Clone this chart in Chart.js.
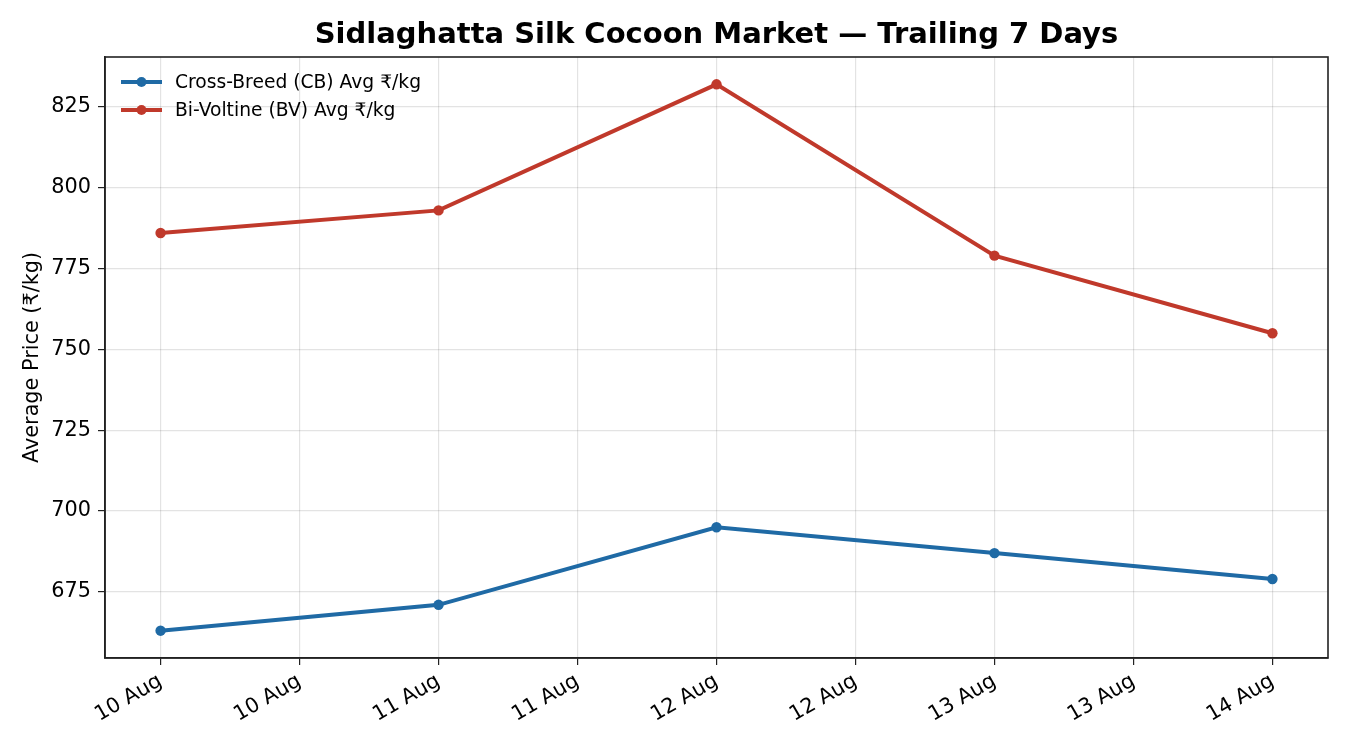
<!DOCTYPE html>
<html>
<head>
<meta charset="utf-8">
<script src="https://cdn.jsdelivr.net/npm/chart.js@4.4.1/dist/chart.umd.min.js"></script>
<style>
html,body{margin:0;padding:0;background:#fff;}
#wrap{width:1350px;height:750px;}
</style>
</head>
<body>
<div id="wrap"><canvas id="c" width="1350" height="750"></canvas></div>
<script>
const titleText = 'Sidlaghatta Silk Cocoon Market — Trailing 7 Days';
const yTitle = 'Average Price (₹/kg)';
const dayPos = [0, 1, 2, 3, 4];
const cbLabel = 'Cross-Breed (CB) Avg ₹/kg';
const bvLabel = 'Bi-Voltine (BV) Avg ₹/kg';
const cbValues = [663, 671, 695, 687, 679];
const bvValues = [786, 793, 832, 779, 755];
const xTickPos = [0, 0.5, 1, 1.5, 2, 2.5, 3, 3.5, 4];
const xTickLabels = ['10 Aug','10 Aug','11 Aug','11 Aug','12 Aug','12 Aug','13 Aug','13 Aug','14 Aug'];
const yTicks = [675, 700, 725, 750, 775, 800, 825];
const cbColor = '#1f6aa5';
const bvColor = '#c0392b';

const FONT = "'DejaVu Sans', sans-serif";
const axisColor = '#222222';
const gridColor = 'rgba(0,0,0,0.11)';

const allVals = cbValues.concat(bvValues);
const yMinD = Math.min(...allVals), yMaxD = Math.max(...allVals);
const yPad = (yMaxD - yMinD) * 0.05;
const xPad = (dayPos[dayPos.length-1] - dayPos[0]) * 0.05;

const framePlugin = {
  id: 'frame',
  afterDraw(chart) {
    const {ctx, chartArea: a} = chart;
    ctx.save();
    ctx.strokeStyle = axisColor;
    ctx.lineWidth = 1.6;
    ctx.strokeRect(a.left, a.top, a.right - a.left, a.bottom - a.top);
    // title
    ctx.fillStyle = '#000';
    ctx.font = "bold 29px " + FONT;
    ctx.textAlign = 'center';
    ctx.textBaseline = 'middle';
    ctx.fillText(titleText, (a.left + a.right) / 2, 35);
    // legend
    const items = [[cbLabel, cbColor], [bvLabel, bvColor]];
    ctx.font = "18.7px " + FONT;
    ctx.textAlign = 'left';
    items.forEach((it, i) => {
      const y = 82 + i * 28;
      ctx.strokeStyle = it[1];
      ctx.lineWidth = 4;
      ctx.beginPath();
      ctx.moveTo(a.left + 16, y);
      ctx.lineTo(a.left + 57, y);
      ctx.stroke();
      ctx.fillStyle = it[1];
      ctx.beginPath();
      ctx.arc(a.left + 36.5, y, 5, 0, Math.PI * 2);
      ctx.fill();
      ctx.fillStyle = '#000';
      ctx.fillText(it[0], a.left + 70, y + 1);
    });
    ctx.restore();
  }
};

new Chart(document.getElementById('c'), {
  type: 'line',
  data: {
    datasets: [
      {
        label: cbLabel,
        data: dayPos.map((x, i) => ({x: x, y: cbValues[i]})),
        borderColor: cbColor, backgroundColor: cbColor,
        borderWidth: 4, pointRadius: 5.2, pointBackgroundColor: cbColor,
        pointBorderWidth: 0, tension: 0
      },
      {
        label: bvLabel,
        data: dayPos.map((x, i) => ({x: x, y: bvValues[i]})),
        borderColor: bvColor, backgroundColor: bvColor,
        borderWidth: 4, pointRadius: 5.2, pointBackgroundColor: bvColor,
        pointBorderWidth: 0, tension: 0
      }
    ]
  },
  options: {
    responsive: false,
    animation: false,
    devicePixelRatio: 1,
    layout: {padding: {left: 0, right: 22, top: 57, bottom: 0}},
    plugins: {legend: {display: false}, title: {display: false}, tooltip: {enabled: false}},
    scales: {
      x: {
        type: 'linear',
        min: dayPos[0] - xPad,
        max: dayPos[dayPos.length-1] + xPad,
        afterBuildTicks(axis) { axis.ticks = xTickPos.map(v => ({value: v})); },
        afterFit(axis) { axis.height = 92; },
        ticks: {
          autoSkip: false,
          maxRotation: 30, minRotation: 30,
          color: '#000',
          font: {family: FONT, size: 20.8},
          padding: 4,
          callback(v) { const i = xTickPos.indexOf(v); return i >= 0 ? xTickLabels[i] : ''; }
        },
        grid: {color: gridColor, lineWidth: 1.2, tickColor: axisColor, tickLength: 7, drawTicks: true},
        border: {color: axisColor, width: 1.6}
      },
      y: {
        type: 'linear',
        min: yMinD - yPad,
        max: yMaxD + yPad,
        afterBuildTicks(axis) { axis.ticks = yTicks.map(v => ({value: v})); },
        afterFit(axis) { axis.width = 105; },
        title: {display: true, text: yTitle, color: '#000', font: {family: FONT, size: 20.8}, padding: {top: 20, bottom: 0}},
        ticks: {color: '#000', font: {family: FONT, size: 20.8}, padding: 7},
        grid: {color: gridColor, lineWidth: 1.2, tickColor: axisColor, tickLength: 7, drawTicks: true},
        border: {color: axisColor, width: 1.6}
      }
    }
  },
  plugins: [framePlugin]
});
</script>
</body>
</html>
